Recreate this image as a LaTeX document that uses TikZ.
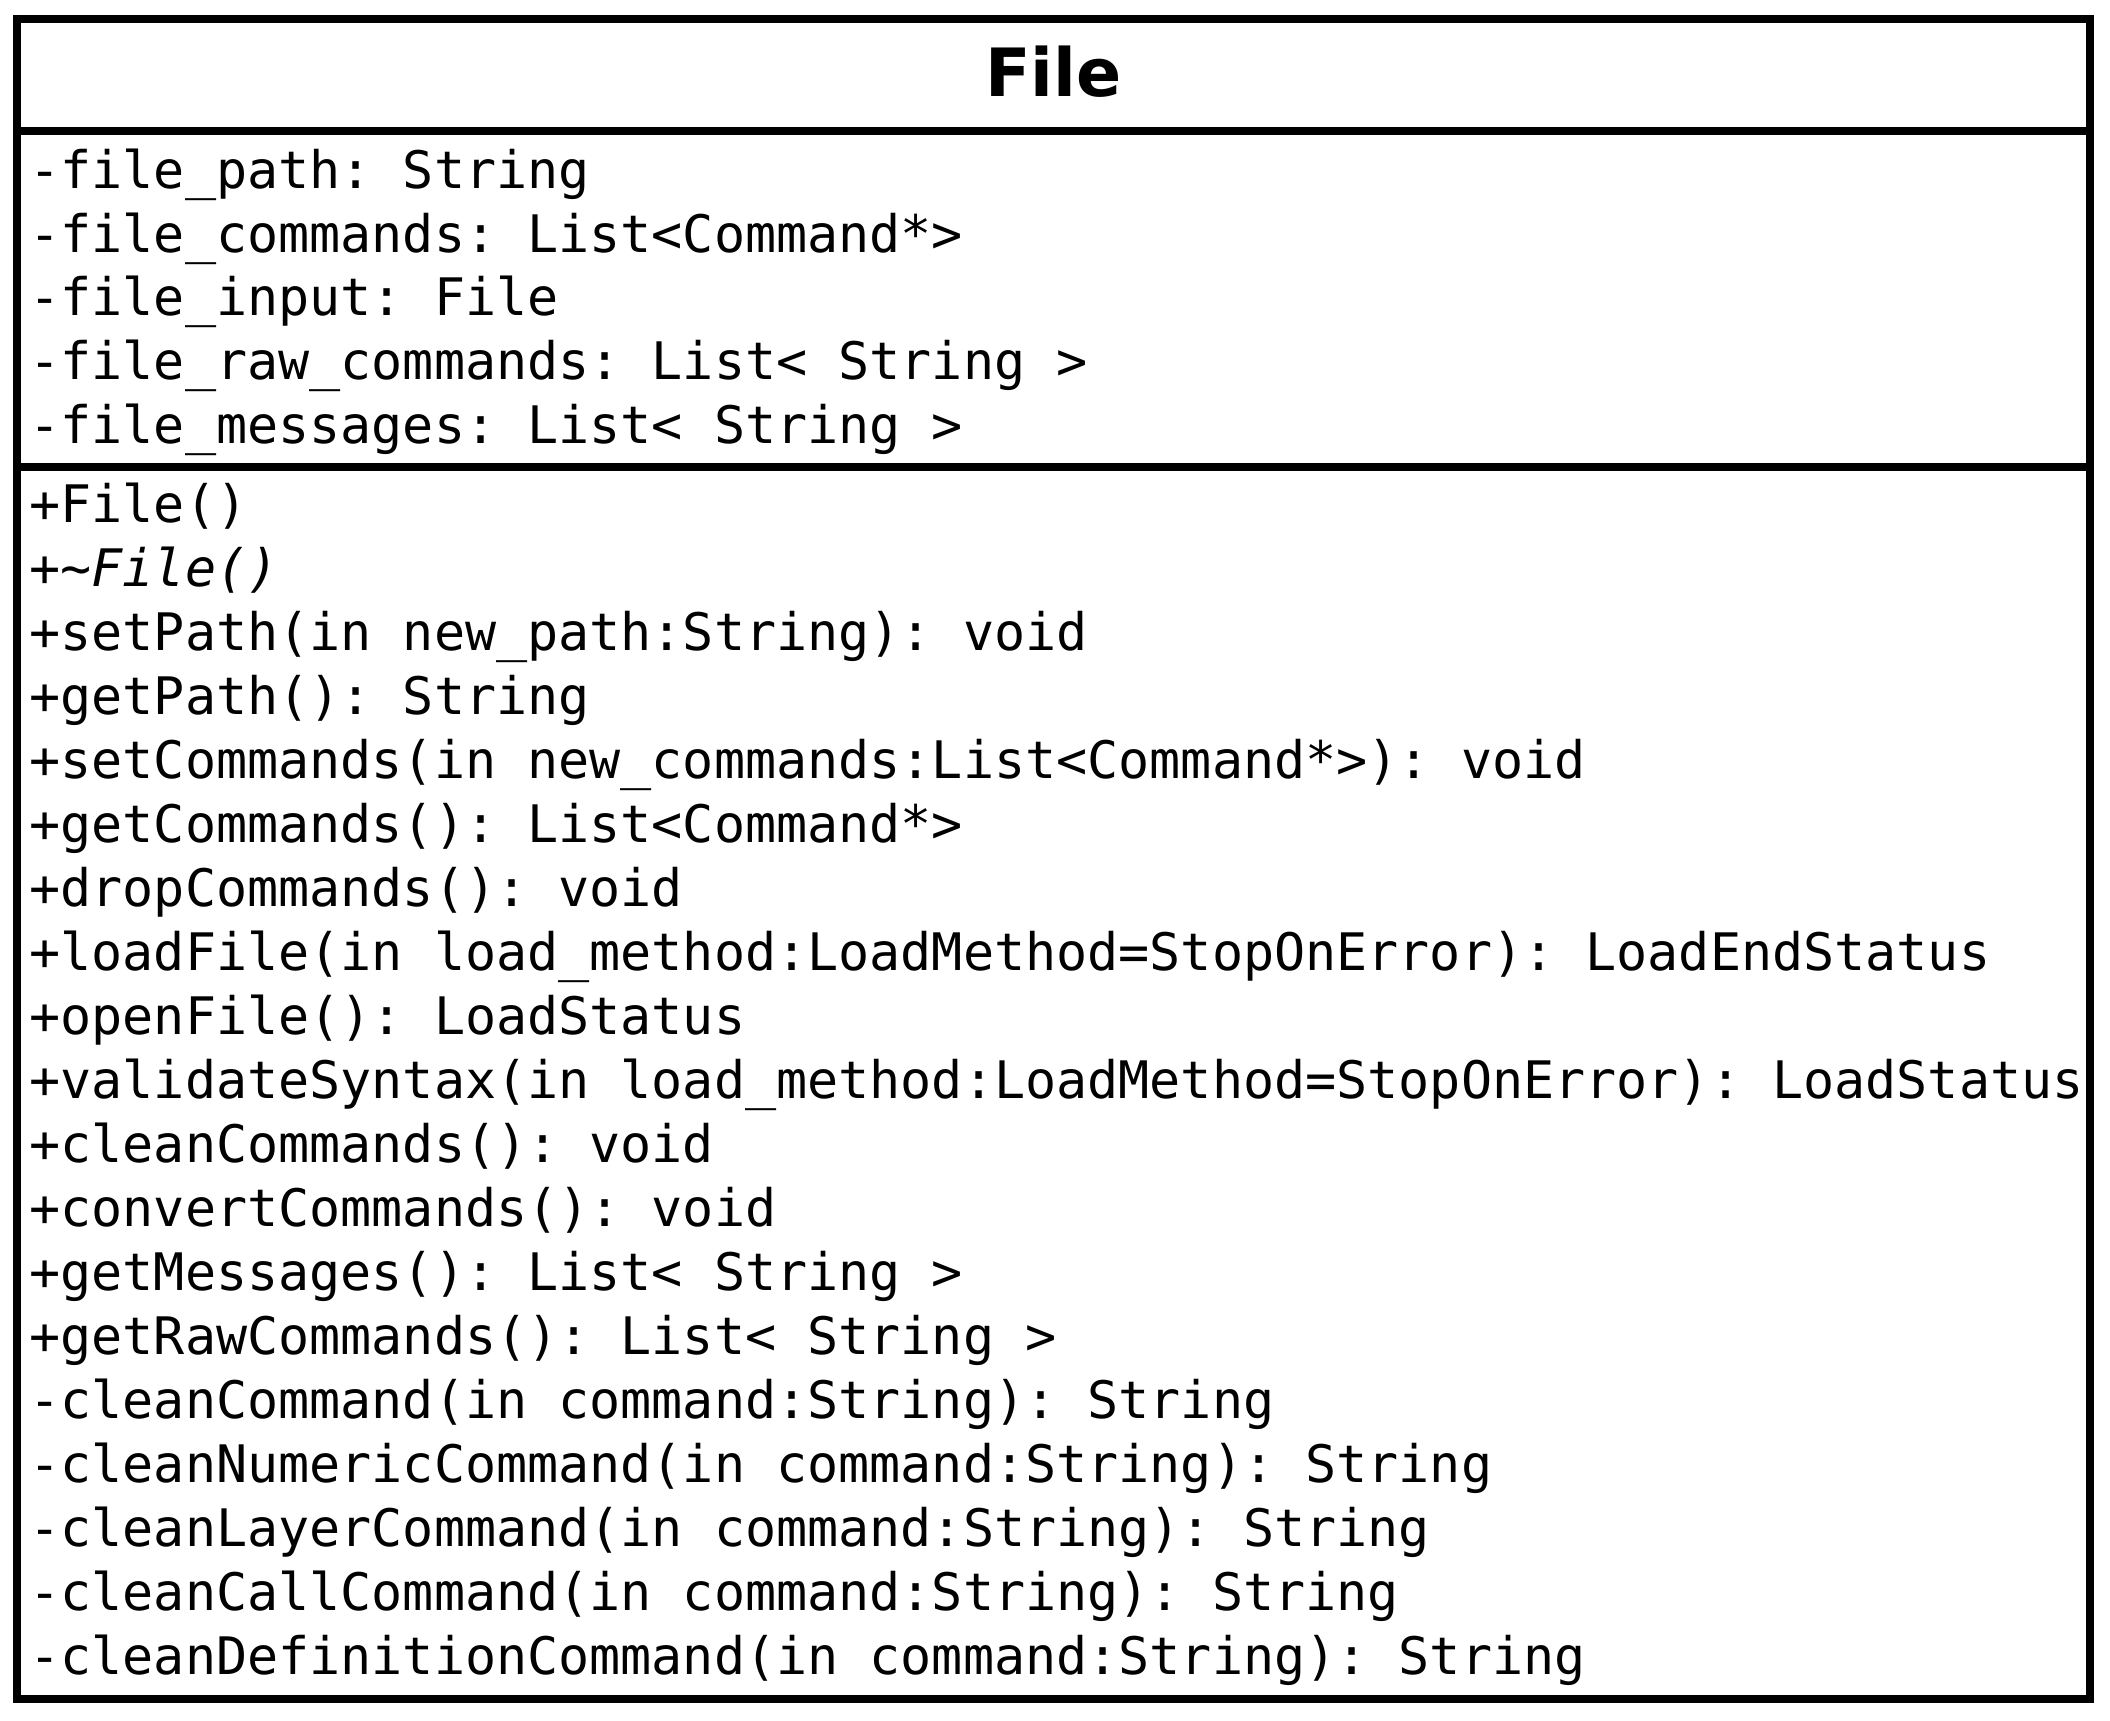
\documentclass[tikz,border=0pt]{standalone}
\usepackage{fontspec}
\setmonofont{DejaVu Sans Mono}
\newfontfamily\titlefont{DejaVu Sans}
\usepackage{tikz}
\usetikzlibrary{positioning}
\newcommand{\us}{\char"5F\relax}

\begin{document}
\begin{tikzpicture}[
    x=0.5pt,
    y=-0.5pt,
    frame/.style={line width=3.75pt},
    member/.style={anchor=base west, inner sep=0pt, font=\ttfamily\fontsize{25.85pt}{32pt}\selectfont},
    classname/.style={anchor=base, inner sep=0pt, font=\titlefont\bfseries\fontsize{33.3pt}{40pt}\selectfont}
]
    \useasboundingbox (0,0) rectangle (2110,1720);

    % Class box
    \draw[frame] (17,19) rectangle (2090,1699);
    \draw[frame] (17,131) -- (2090,131);
    \draw[frame] (17,467) -- (2090,467);

    % Name
    \node[classname] (class_name) at (1053.5,96) {File};

    % Attributes
    \node[member] (file_path) at (29,188.3) {-file\us path: String};
    \node[below=31.9pt of file_path.base west, member] (file_commands) {-file\us commands: List<Command*>};
    \node[below=31.9pt of file_commands.base west, member] (file_input) {-file\us input: File};
    \node[below=31.9pt of file_input.base west, member] (file_raw) {-file\us raw\us commands: List< String >};
    \node[below=31.9pt of file_raw.base west, member] (file_messages) {-file\us messages: List< String >};

    % Methods
    \node[member] (ctor) at (29,522.7) {+File()};
    \node[below=32pt of ctor.base west, member] (dtor) {+\textit{\textasciitilde File()}};
    \node[below=32pt of dtor.base west, member] (set_path) {+setPath(in new\us path:String): void};
    \node[below=32pt of set_path.base west, member] (get_path) {+getPath(): String};
    \node[below=32pt of get_path.base west, member] (set_cmds) {+setCommands(in new\us commands:List<Command*>): void};
    \node[below=32pt of set_cmds.base west, member] (get_cmds) {+getCommands(): List<Command*>};
    \node[below=32pt of get_cmds.base west, member] (drop_cmds) {+dropCommands(): void};
    \node[below=32pt of drop_cmds.base west, member] (load_file) {+loadFile(in load\us method:LoadMethod=StopOnError): LoadEndStatus};
    \node[below=32pt of load_file.base west, member] (open_file) {+openFile(): LoadStatus};
    \node[below=32pt of open_file.base west, member] (validate) {+validateSyntax(in load\us method:LoadMethod=StopOnError): LoadStatus};
    \node[below=32pt of validate.base west, member] (clean_cmds) {+cleanCommands(): void};
    \node[below=32pt of clean_cmds.base west, member] (convert_cmds) {+convertCommands(): void};
    \node[below=32pt of convert_cmds.base west, member] (get_msgs) {+getMessages(): List< String >};
    \node[below=32pt of get_msgs.base west, member] (get_raw) {+getRawCommands(): List< String >};
    \node[below=32pt of get_raw.base west, member] (clean_cmd) {-cleanCommand(in command:String): String};
    \node[below=32pt of clean_cmd.base west, member] (clean_num) {-cleanNumericCommand(in command:String): String};
    \node[below=32pt of clean_num.base west, member] (clean_layer) {-cleanLayerCommand(in command:String): String};
    \node[below=32pt of clean_layer.base west, member] (clean_call) {-cleanCallCommand(in command:String): String};
    \node[below=32pt of clean_call.base west, member] (clean_def) {-cleanDefinitionCommand(in command:String): String};
\end{tikzpicture}
\end{document}
